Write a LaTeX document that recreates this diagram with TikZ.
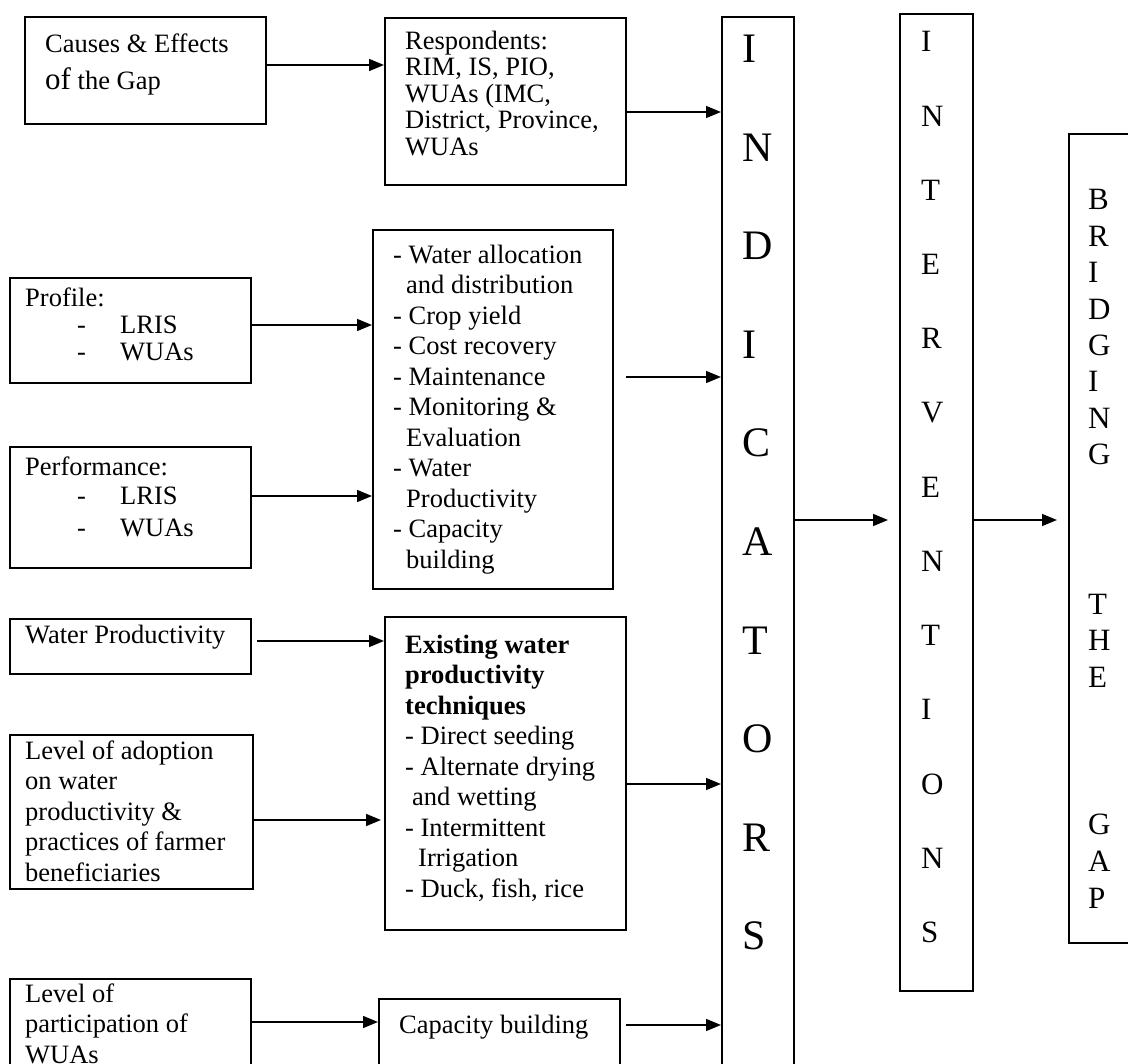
\documentclass[tikz,border=0pt]{standalone}
\usepackage{fontspec}
\setmainfont{Liberation Serif}
\usetikzlibrary{arrows.meta}
\begin{document}
\begin{tikzpicture}[x=1pt,y=-1pt,
  box/.style={draw,line width=1.8pt,rectangle,anchor=north west,inner sep=0pt},
  txt/.style={anchor=north west,inner sep=0pt,align=left,font=\fontsize{26.5}{30.5}\selectfont},
  txtb/.style={anchor=north west,inner sep=0pt,align=left,font=\fontsize{26.5}{26.5}\selectfont},
  txtc/.style={anchor=north west,inner sep=0pt,align=left,font=\fontsize{26.5}{27}\selectfont},
  txtd/.style={anchor=north west,inner sep=0pt,align=left,font=\fontsize{26.5}{29}\selectfont},
  arr/.style={line width=1.5pt,-{Triangle[length=15pt,width=12pt]}},
  bigl/.style={anchor=base west,inner sep=0pt,font=\fontsize{42}{42}\selectfont},
  midl/.style={anchor=base west,inner sep=0pt,font=\fontsize{31}{31}\selectfont},
]
\clip (0,0) rectangle (1128,1064);
\path[use as bounding box] (0,0) rectangle (1128,1064);

% boxes
\node[box,minimum width=241pt,minimum height=107pt] (causes) at (24,16) {};
\node[box,minimum width=241pt,minimum height=167pt] (resp) at (384,17) {};
\node[box,minimum width=241pt,minimum height=105pt] (profile) at (9,277) {};
\node[box,minimum width=241pt,minimum height=121pt] (perf) at (9,446) {};
\node[box,minimum width=240pt,minimum height=359pt] (list) at (372,229) {};
\node[box,minimum width=241pt,minimum height=55pt] (wp) at (9,618) {};
\node[box,minimum width=243pt,minimum height=154pt] (adopt) at (9,734) {};
\node[box,minimum width=241pt,minimum height=120pt] (part) at (9,978) {};
\node[box,minimum width=241pt,minimum height=313pt] (exist) at (384,616) {};
\node[box,minimum width=241pt,minimum height=100pt] (cap) at (378,998) {};
\node[box,minimum width=72pt,minimum height=1100pt] (ind) at (721,16) {};
\node[box,minimum width=73pt,minimum height=977pt] (int) at (899,13) {};
\node[box,minimum width=100pt,minimum height=809pt] (br) at (1068,133) {};

% texts
\node[txt] (tcauses) at (45,30.65) {\strut Causes \& Effects\\[5.5pt]{\fontsize{31}{31}\selectfont of} the Gap};
\node[txtb] (tresp) at (405,30.45) {\strut Respondents:\\RIM, IS, PIO,\\WUAs (IMC,\\District, Province,\\WUAs};
\node[txtc] (tprofile) at (25,287.1) {\strut Profile:\\\hspace*{52pt}\makebox[43pt][l]{-}LRIS\\\hspace*{52pt}\makebox[43pt][l]{-}WUAs};
\node[txtd] (tperf) at (25,454.7) {\strut Performance:\\\hspace*{52pt}\makebox[43pt][l]{-}LRIS\\[3pt]\hspace*{52pt}\makebox[43pt][l]{-}WUAs};
\node[txt] (tlist) at (393,241.65) {\strut - Water allocation\\\hspace*{13pt}and distribution\\- Crop yield\\- Cost recovery\\- Maintenance\\- Monitoring \&\\\hspace*{13pt}Evaluation\\- Water\\\hspace*{13pt}Productivity\\- Capacity\\\hspace*{13pt}building};
\node[txt] (texist) at (405,631.65) {\strut\textbf{Existing water}\\\textbf{productivity}\\\textbf{techniques}\\- Direct seeding\\- Alternate drying\\\hspace*{7pt}and wetting\\- Intermittent\\\hspace*{13pt}Irrigation\\- Duck, fish, rice};
\node[txt] (twp) at (25,621.65) {\strut Water Productivity};
\node[txt] (tadopt) at (25,737.65) {\strut Level of adoption\\on water\\productivity \&\\practices of farmer\\beneficiaries};
\node[txt] (tpart) at (25,980.65) {\strut Level of\\participation of\\WUAs};
\node[txt] (tcap) at (399,1011.65) {\strut Capacity building};

% vertical letters
\foreach \l [count=\i from 0] in {I,N,D,I,C,A,T,O,R,S}
  \node[bigl] (indl\i) at (742,63+98.5*\i) {\l};
\foreach \l [count=\i from 0] in {I,N,T,E,R,V,E,N,T,I,O,N,S}
  \node[midl] (intl\i) at (921,52+74.2*\i) {\l};
\foreach \l [count=\i from 0] in {B,R,I,D,G,I,N,G}
  \node[midl] (brl\i) at (1088,210+36.4*\i) {\l};
\foreach \l [count=\i from 0] in {T,H,E}
  \node[midl] (thel\i) at (1088,614+36.5*\i) {\l};
\foreach \l [count=\i from 0] in {G,A,P}
  \node[midl] (gapl\i) at (1088,834+37*\i) {\l};

% arrows
\draw[arr] (causes.east |- 0,65) -- (resp.west |- 0,65);
\draw[arr] (resp.east |- 0,112) -- (ind.west |- 0,112);
\draw[arr] (profile.east |- 0,325) -- (list.west |- 0,325);
\draw[arr] (perf.east |- 0,496) -- (list.west |- 0,496);
\draw[arr] ([xshift=12pt]list.east |- 0,377) -- (ind.west |- 0,377);
\draw[arr] ([xshift=5pt]wp.east |- 0,641) -- (exist.west |- 0,641);
\draw[arr] (adopt.east |- 0,820) -- ([xshift=-3pt]exist.west |- 0,820);
\draw[arr] (part.east |- 0,1022) -- (cap.west |- 0,1022);
\draw[arr] (exist.east |- 0,784) -- (ind.west |- 0,784);
\draw[arr] ([xshift=5pt]cap.east |- 0,1025) -- (ind.west |- 0,1025);
\draw[arr] (ind.east |- 0,520) -- ([xshift=-11pt]int.west |- 0,520);
\draw[arr] (int.east |- 0,520) -- ([xshift=-11pt]br.west |- 0,520);
\end{tikzpicture}
\end{document}
